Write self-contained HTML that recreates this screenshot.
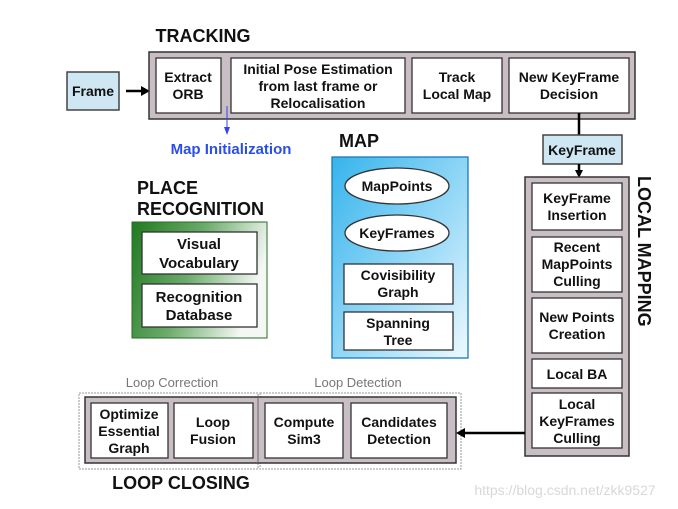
<!DOCTYPE html>
<html><head><meta charset="utf-8"><style>
html,body{margin:0;padding:0;background:#fff;}
svg{display:block;font-family:"Liberation Sans",sans-serif;font-weight:bold;}
</style></head><body>
<svg width="678" height="509" viewBox="0 0 678 509" xmlns="http://www.w3.org/2000/svg">
<defs>
<linearGradient id="g" x1="0" y1="0" x2="1" y2="0.3"><stop offset="0" stop-color="#1f7a1f"/><stop offset="0.5" stop-color="#6aaa6a"/><stop offset="1" stop-color="#f4f8f4"/></linearGradient>
<linearGradient id="b" x1="0" y1="0" x2="1" y2="1"><stop offset="0" stop-color="#36b4ec"/><stop offset="0.6" stop-color="#9fdcf8"/><stop offset="1" stop-color="#eef9ff"/></linearGradient>
</defs>
<g font-size="14" fill="#111" text-anchor="middle">
<text x="203" y="42" font-size="18">TRACKING</text>
<!-- Frame -->
<rect x="67" y="72" width="52" height="38" fill="#cfe6f3" stroke="#444" stroke-width="1.5"/>
<text x="93" y="96">Frame</text>
<line x1="126" y1="91" x2="143" y2="91" stroke="#000" stroke-width="2.5"/>
<polygon points="150,91 141,86 141,96" fill="#000"/>
<!-- Tracking box -->
<rect x="149" y="52" width="486" height="67" fill="#c9bec4" stroke="#333" stroke-width="1.5"/>
<rect x="156" y="58" width="65" height="55" fill="#fff" stroke="#333" stroke-width="1.3"/>
<text x="188" y="82">Extract</text><text x="188" y="99">ORB</text>
<rect x="231" y="58" width="174" height="55" fill="#fff" stroke="#333" stroke-width="1.3"/>
<text x="318" y="74">Initial Pose Estimation</text><text x="318" y="91">from last frame or</text><text x="318" y="108">Relocalisation</text>
<rect x="412" y="58" width="90" height="55" fill="#fff" stroke="#333" stroke-width="1.3"/>
<text x="457" y="82">Track</text><text x="457" y="99">Local Map</text>
<rect x="509" y="58" width="120" height="55" fill="#fff" stroke="#333" stroke-width="1.3"/>
<text x="569" y="82">New KeyFrame</text><text x="569" y="99">Decision</text>
<!-- map init -->
<line x1="227" y1="106" x2="227" y2="128" stroke="#3344ee" stroke-width="1"/>
<polygon points="227,135 224,127 230,127" fill="#3344ee"/>
<text x="231" y="154" fill="#2a4ee8" font-size="15">Map Initialization</text>
<!-- KeyFrame -->
<line x1="579" y1="113" x2="579" y2="135" stroke="#000" stroke-width="2.5"/>
<rect x="543" y="135" width="79" height="29" fill="#cfe6f3" stroke="#444" stroke-width="1.5"/>
<text x="582" y="155">KeyFrame</text>
<line x1="579" y1="164" x2="579" y2="172" stroke="#000" stroke-width="2.5"/>
<polygon points="579,178 575,170 583,170" fill="#000"/>
<!-- Local mapping -->
<rect x="525" y="177" width="104" height="279" fill="#c9bec4" stroke="#333" stroke-width="1.5"/>
<rect x="532" y="183" width="90" height="47" fill="#fff" stroke="#333" stroke-width="1.3"/>
<text x="577" y="203">KeyFrame</text><text x="577" y="220">Insertion</text>
<rect x="532" y="237" width="90" height="55" fill="#fff" stroke="#333" stroke-width="1.3"/>
<text x="577" y="252">Recent</text><text x="577" y="269">MapPoints</text><text x="577" y="286">Culling</text>
<rect x="532" y="298" width="90" height="55" fill="#fff" stroke="#333" stroke-width="1.3"/>
<text x="577" y="322">New Points</text><text x="577" y="339">Creation</text>
<rect x="532" y="359" width="90" height="29" fill="#fff" stroke="#333" stroke-width="1.3"/>
<text x="577" y="379">Local BA</text>
<rect x="532" y="393" width="90" height="55" fill="#fff" stroke="#333" stroke-width="1.3"/>
<text x="577" y="409">Local</text><text x="577" y="426">KeyFrames</text><text x="577" y="443">Culling</text>
<text x="0" y="0" font-size="18" text-anchor="start" transform="translate(638,176) rotate(90)">LOCAL MAPPING</text>
<!-- MAP -->
<text x="359" y="147" font-size="18">MAP</text>
<rect x="332" y="157" width="136" height="201" fill="url(#b)" stroke="#1a7ab8" stroke-width="1.3"/>
<ellipse cx="397" cy="186" rx="52" ry="18" fill="#fff" stroke="#333" stroke-width="1.3"/>
<text x="397" y="191">MapPoints</text>
<ellipse cx="397" cy="233" rx="52" ry="18" fill="#fff" stroke="#333" stroke-width="1.3"/>
<text x="397" y="238">KeyFrames</text>
<rect x="344" y="264" width="109" height="40" fill="#fff" stroke="#333" stroke-width="1.3"/>
<text x="398" y="280">Covisibility</text><text x="398" y="297">Graph</text>
<rect x="344" y="312" width="109" height="38" fill="#fff" stroke="#333" stroke-width="1.3"/>
<text x="398" y="328">Spanning</text><text x="398" y="345">Tree</text>
<!-- Place recognition -->
<text x="137" y="194" font-size="18" text-anchor="start">PLACE</text>
<text x="137" y="215" font-size="18" text-anchor="start">RECOGNITION</text>
<rect x="132" y="222" width="135" height="116" fill="url(#g)" stroke="#2a6a2a" stroke-width="1"/>
<rect x="142" y="232" width="115" height="42" fill="#fff" stroke="#333" stroke-width="1.3"/>
<text x="199" y="249" font-size="15">Visual</text><text x="199" y="268" font-size="15">Vocabulary</text>
<rect x="142" y="284" width="115" height="43" fill="#fff" stroke="#333" stroke-width="1.3"/>
<text x="199" y="302" font-size="15">Recognition</text><text x="199" y="320" font-size="15">Database</text>
<!-- Loop closing -->
<text x="172" y="387" font-size="13" font-weight="normal" fill="#777">Loop Correction</text>
<text x="358" y="387" font-size="13" font-weight="normal" fill="#777">Loop Detection</text>
<rect x="79" y="393" width="179" height="76" fill="none" stroke="#999" stroke-width="1" stroke-dasharray="2,1"/>
<rect x="260" y="393" width="201" height="76" fill="none" stroke="#999" stroke-width="1" stroke-dasharray="2,1"/>
<rect x="85" y="397" width="371" height="66" fill="#c9bec4" stroke="#333" stroke-width="1.5"/>
<line x1="258" y1="397" x2="258" y2="463" stroke="#666" stroke-width="1"/>
<rect x="91" y="403" width="77" height="55" fill="#fff" stroke="#333" stroke-width="1.3"/>
<text x="129" y="419">Optimize</text><text x="129" y="436">Essential</text><text x="129" y="453">Graph</text>
<rect x="174" y="403" width="79" height="55" fill="#fff" stroke="#333" stroke-width="1.3"/>
<text x="213" y="427">Loop</text><text x="213" y="444">Fusion</text>
<rect x="265" y="403" width="78" height="55" fill="#fff" stroke="#333" stroke-width="1.3"/>
<text x="304" y="427">Compute</text><text x="304" y="444">Sim3</text>
<rect x="351" y="403" width="96" height="55" fill="#fff" stroke="#333" stroke-width="1.3"/>
<text x="399" y="427">Candidates</text><text x="399" y="444">Detection</text>
<line x1="525" y1="433" x2="464" y2="433" stroke="#000" stroke-width="2.5"/>
<polygon points="456,433 465,428 465,438" fill="#000"/>
<text x="181" y="489" font-size="18">LOOP CLOSING</text>
<text x="565" y="495" font-size="14" font-weight="normal" fill="#d8d8d8">https://blog.csdn.net/zkk9527</text>
</g>
</svg>
</body></html>
